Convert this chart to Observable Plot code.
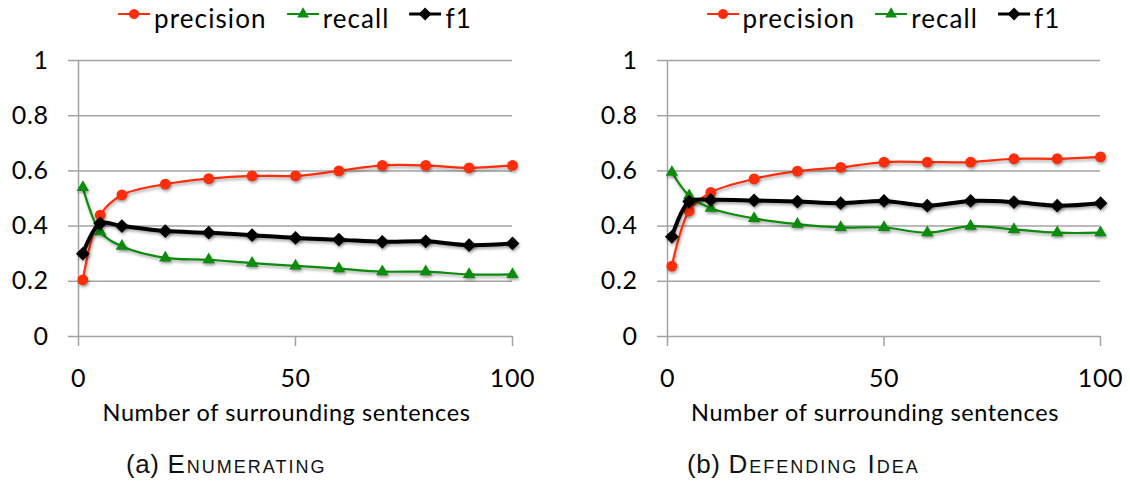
<!DOCTYPE html>
<html>
<head>
<meta charset="utf-8">
<script src="https://cdn.jsdelivr.net/npm/d3@7"></script>
<script src="https://cdn.jsdelivr.net/npm/@observablehq/plot@0.6"></script>
<style>
  body { margin: 0; background: #fff; }
  #fig { position: relative; width: 1130px; height: 487px; overflow: hidden; background: #fff; }
  .panel { position: absolute; top: 0; width: 565px; height: 440px; }
  .legend { position: absolute; top: 2px; display: flex; align-items: center; transform: translateX(-50%);
            font-family: Lato, sans-serif; font-size: 26px; letter-spacing: 1.1px; color: #000; white-space: nowrap; }
  .legend .item { display: flex; align-items: center; margin-right: 20px; }
  .legend .item:last-child { margin-right: 0; }
  .legend svg { margin-right: 4px; margin-top: -8px; overflow: visible; }
  .caption { position: absolute; top: 449px; white-space: nowrap;
             font-family: "Liberation Sans", Arial, sans-serif; font-size: 26px;
             letter-spacing: 0.6px; color: #111; }
  .caption .sc { font-variant: small-caps; letter-spacing: 2px; }
  .panel svg g[aria-label="line"], .panel svg g[aria-label="dot"] {
    filter: drop-shadow(1px 2px 1.5px rgba(0,0,0,0.35));
  }
</style>
</head>
<body>
<div id="fig"></div>
<script>
// x positions: number of surrounding sentences
const sentences = [1, 5, 10, 20, 30, 40, 50, 60, 70, 80, 90, 100];

// (a) Enumerating
const precisionA = [0.205, 0.44, 0.513, 0.552, 0.572, 0.582, 0.582, 0.60, 0.62, 0.62, 0.611, 0.62];
const recallA    = [0.54, 0.38, 0.327, 0.285, 0.278, 0.266, 0.256, 0.246, 0.235, 0.235, 0.225, 0.225];
const f1A        = [0.30, 0.41, 0.40, 0.382, 0.376, 0.367, 0.357, 0.351, 0.343, 0.345, 0.331, 0.337];

// (b) Defending Idea
const precisionB = [0.255, 0.455, 0.522, 0.571, 0.599, 0.613, 0.632, 0.632, 0.632, 0.644, 0.644, 0.651];
const recallB    = [0.595, 0.51, 0.465, 0.428, 0.407, 0.395, 0.395, 0.376, 0.40, 0.388, 0.376, 0.376];
const f1B        = [0.361, 0.489, 0.495, 0.493, 0.489, 0.483, 0.491, 0.474, 0.491, 0.487, 0.474, 0.483];

const yTicks = [0, 0.2, 0.4, 0.6, 0.8, 1];
const xTicks = [0, 50, 100];
const metricNames = ["precision", "recall", "f1"];
const xTitle = "Number of surrounding sentences";

const styles = {
  precision: {color: "#ff2d0a", symbol: "circle", r: 5.4, width: 2.2, d3sym: d3.symbolCircle},
  recall:    {color: "#0c8c0c", symbol: "triangle", r: 4.6, width: 2.2, d3sym: d3.symbolTriangle},
  f1:        {color: "#000000", symbol: "diamond2", r: 6.2, width: 4, d3sym: d3.symbolDiamond2}
};
const gridColor = "#a3a3a3";

const fig = document.getElementById("fig");

function rowsFor(values) {
  return sentences.map((x, i) => ({x, y: values[i]}));
}

function panel({left, marginLeft, marginRight, series, tag, title, captionX}) {
  const marks = [
    Plot.gridY(yTicks.slice(1), {stroke: gridColor, strokeOpacity: 1, strokeWidth: 1.5}),
    Plot.ruleY([0], {stroke: gridColor, strokeWidth: 1.5}),
    Plot.ruleX([0], {stroke: gridColor, strokeWidth: 1.5}),
    Plot.axisY({ticks: yTicks, tickSize: 10, tickPadding: 20, stroke: gridColor, strokeWidth: 1.5,
                tickFormat: d => String(d), label: null}),
    Plot.axisX({ticks: xTicks, tickSize: 10, tickPadding: 23, stroke: gridColor, strokeWidth: 1.5,
                tickFormat: d => String(d), label: null}),
    Plot.text([xTitle], {frameAnchor: "bottom", dy: 84, dx: -9, fontSize: 23.5, text: d => d,
                         letterSpacing: "1.3px"})
  ];
  for (const name of metricNames) {
    const s = styles[name];
    const rows = rowsFor(series[name]);
    marks.push(Plot.line(rows, {x: "x", y: "y", stroke: s.color, strokeWidth: s.width, curve: "catmull-rom"}));
    marks.push(Plot.dot(rows, {x: "x", y: "y", symbol: s.symbol, r: s.r, fill: s.color, stroke: "none"}));
  }
  const chart = Plot.plot({
    width: 565,
    height: 440,
    marginTop: 60,
    marginBottom: 104,
    marginLeft,
    marginRight,
    x: {domain: [0, 100]},
    y: {domain: [0, 1]},
    style: {fontFamily: "Lato, sans-serif", fontSize: "25px", color: "#000", background: "transparent", letterSpacing: "0.6px"},
    marks
  });
  const wrap = document.createElement("div");
  wrap.className = "panel";
  wrap.style.left = left + "px";
  wrap.appendChild(chart);
  fig.appendChild(wrap);

  // legend above the plot area
  const legend = document.createElement("div");
  legend.className = "legend";
  const plotCenter = left + marginLeft + (565 - marginLeft - marginRight) / 2;
  legend.style.left = plotCenter + "px";
  for (const name of metricNames) {
    const s = styles[name];
    const item = document.createElement("div");
    item.className = "item";
    const sw = d3.create("svg").attr("width", 32).attr("height", 16);
    sw.append("line").attr("x1", 0).attr("x2", 32).attr("y1", 8).attr("y2", 8)
      .attr("stroke", s.color).attr("stroke-width", name === "f1" ? 3 : 2);
    sw.append("path").attr("transform", "translate(16,8)")
      .attr("d", d3.symbol(s.d3sym, Math.PI * s.r * s.r * 0.9)()).attr("fill", s.color);
    item.appendChild(sw.node());
    const label = document.createElement("span");
    label.textContent = name;
    item.appendChild(label);
    legend.appendChild(item);
  }
  fig.appendChild(legend);

  // sub-figure caption: "(a) " followed by the title in small capitals
  const cap = document.createElement("div");
  cap.className = "caption";
  cap.style.left = captionX + "px";
  const tagSpan = document.createElement("span");
  tagSpan.textContent = tag + " ";
  const titleSpan = document.createElement("span");
  titleSpan.className = "sc";
  titleSpan.textContent = title;
  cap.appendChild(tagSpan);
  cap.appendChild(titleSpan);
  fig.appendChild(cap);
}

panel({left: 0, marginLeft: 78, marginRight: 53,
       series: {precision: precisionA, recall: recallA, f1: f1A},
       tag: "(a)", title: "Enumerating", captionX: 126});
panel({left: 565, marginLeft: 102, marginRight: 30,
       series: {precision: precisionB, recall: recallB, f1: f1B},
       tag: "(b)", title: "Defending Idea", captionX: 687});
</script>
</body>
</html>
